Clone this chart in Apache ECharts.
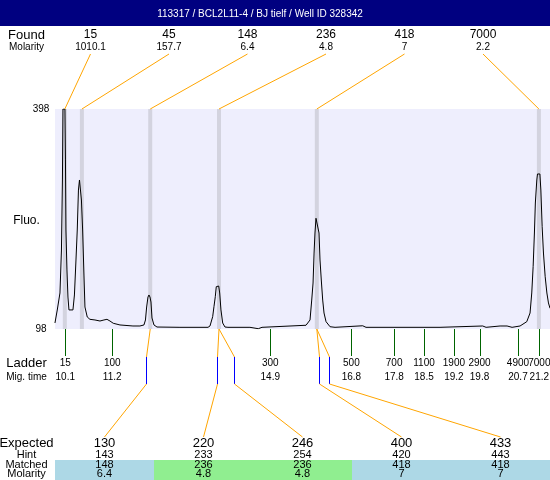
<!DOCTYPE html>
<html><head><meta charset="utf-8">
<script src="https://cdn.jsdelivr.net/npm/echarts@6/dist/echarts.min.js"></script>
<style>html,body{margin:0;padding:0;background:#fff}#c{width:550px;height:480px}</style>
</head><body><div id="c"></div>
<script>
// ---------- data ----------
const titleText = '113317 / BCL2L11-4 / BJ tielf / Well ID 328342';
const foundSizes = [15, 45, 148, 236, 418, 7000];
const foundMolarity = ['1010.1', '157.7', '6.4', '4.8', '7', '2.2'];
const foundTimes = [10.09, 10.49, 12.09, 13.70, 15.99, 21.19];
const ladderSizes = [15, 100, 300, 500, 700, 1100, 1900, 2900, 4900, 7000];
const ladderTimes = [10.1, 11.2, 14.9, 16.8, 17.8, 18.5, 19.2, 19.8, 20.7, 21.2];
const expectedSizes = [130, 220, 246, 400, 433];
const hintSizes = [143, 233, 254, 420, 443];
const hintTimes = [12.00, 13.66, 14.06, 16.04, 16.27];
const matchedSizes = [148, 236, 236, 418, 418];
const matchedMolarity = ['6.4', '4.8', '4.8', '7', '7'];
const yTicks = [98, 398];
const traceTimes = [9.859, 9.913, 9.976, 10.011, 10.034, 10.046, 10.093, 10.105, 10.116, 10.140, 10.163, 10.187, 10.233, 10.280, 10.315, 10.351, 10.381, 10.409, 10.433, 10.461, 10.479, 10.507, 10.538, 10.561, 10.615, 10.678, 10.796, 10.913, 11.006, 11.077, 11.147, 11.224, 11.381, 11.685, 11.849, 11.943, 11.978, 12.006, 12.037, 12.060, 12.084, 12.107, 12.131, 12.177, 12.248, 12.786, 13.442, 13.489, 13.552, 13.582, 13.613, 13.636, 13.653, 13.693, 13.716, 13.746, 13.786, 13.840, 13.910, 14.425, 14.620, 14.707, 15.737, 15.831, 15.871, 15.902, 15.926, 15.947, 15.971, 16.011, 16.042, 16.065, 16.095, 16.128, 16.159, 16.206, 16.300, 16.417, 17.065, 17.142, 17.938, 18.875, 19.875, 19.953, 20.281, 20.445, 20.562, 20.749, 20.906, 20.983, 21.023, 21.055, 21.085, 21.107, 21.141, 21.157, 21.213, 21.236, 21.266, 21.297, 21.337, 21.377, 21.414, 21.451];
const traceFluo = [106.2, 123.9, 147.1, 205.7, 301.2, 398, 398, 328.5, 233, 178.5, 141.6, 124, 122.5, 124, 144.4, 192.1, 233, 287.5, 301.2, 299.8, 273.9, 233, 171.6, 128, 114.4, 111.2, 110.3, 108.9, 110.3, 111.2, 108.9, 105.8, 103.5, 102.1, 102.1, 103.5, 110.3, 128, 141.6, 144.4, 141.6, 134.8, 113, 103.5, 100.7, 100.3, 100.3, 102.1, 114.8, 128.4, 142, 155.7, 156.6, 156.6, 147.1, 124, 106.2, 100.7, 100.3, 100.3, 98.4, 100.3, 103.1, 110.3, 137.5, 160.7, 201.6, 228.9, 249, 249.4, 228.9, 192.1, 164.8, 137.5, 119.8, 108, 101.1, 100.3, 102.4, 100.3, 100.3, 100.3, 102.1, 100.3, 102.1, 102.1, 100.3, 102.1, 108, 119.8, 147.1, 183, 228.9, 269.8, 301.2, 309.4, 309.4, 287.5, 237.5, 201.6, 169.3, 147.1, 133.5, 126.2];

// ---------- layout / style ----------
const FONT = '"Liberation Sans", Arial, sans-serif';
const f = s => s + 'px ' + FONT;
const X_MIN = 9.86, X_MAX = 21.45, Y_MIN = yTicks[0], Y_MAX = yTicks[1];
const ORANGE = '#FFA500', GREEN = '#006400', BLUE = '#0000FF';
const cellColors = ['#ADD8E6', '#90EE90', '#90EE90', '#ADD8E6', '#ADD8E6'];
const foundColX = i => 51.25 + 78.5 * (i + 0.5);
const expColX = i => 55 + 99 * (i + 0.5);
const LABEL_X = 26.5;
const px = x => Math.round(x) + 0.5;

const chart = echarts.init(document.getElementById('c'), null, {renderer: 'canvas'});

const graphics = [];
graphics.push({type: 'rect', shape: {x: 0, y: 0, width: 550, height: 26}, style: {fill: '#000080'}});
function txt(text, x, y, size, extra) {
  graphics.push({type: 'text', x: x, y: y, style: Object.assign({text: String(text), font: f(size), fill: '#000', align: 'center', verticalAlign: 'middle'}, extra || {})});
}
txt(titleText, 260, 14, 10, {fill: '#fff'});
txt('Found', LABEL_X, 35, 13);
txt('Molarity', LABEL_X, 47, 10);
txt('Fluo.', LABEL_X, 221, 12);
txt('Ladder', LABEL_X, 363, 13);
txt('Mig. time', LABEL_X, 377, 10);
txt('Expected', LABEL_X, 443, 13);
txt('Hint', LABEL_X, 455, 11);
txt('Matched', LABEL_X, 465, 11);
txt('Molarity', LABEL_X, 474, 11);
foundSizes.forEach((s, i) => {
  txt(s, foundColX(i), 35, 12);
  txt(foundMolarity[i], foundColX(i), 47, 10);
});
expectedSizes.forEach((s, i) => {
  graphics.push({type: 'rect', z: -1, shape: {x: 55 + 99 * i, y: 460, width: 99, height: 20}, style: {fill: cellColors[i]}});
  txt(s, expColX(i), 443, 13);
  txt(hintSizes[i], expColX(i), 455, 11);
  txt(matchedSizes[i], expColX(i), 465, 11);
  txt(matchedMolarity[i], expColX(i), 474, 11);
});

const option = {
  animation: false,
  grid: {left: 55, right: 0, top: 109, bottom: 151, show: true, backgroundColor: '#EEEEFD', borderWidth: 0},
  xAxis: {type: 'value', min: X_MIN, max: X_MAX, show: false},
  yAxis: {
    type: 'value', min: Y_MIN, max: Y_MAX, interval: Y_MAX - Y_MIN,
    axisLine: {show: false}, axisTick: {show: false}, splitLine: {show: false},
    axisLabel: {fontSize: 10, fontFamily: FONT, color: '#000', align: 'center', margin: 14, showMinLabel: true, showMaxLabel: true}
  },
  graphic: graphics,
  series: [
    { // grey bands at found peaks
      type: 'custom', z: 1, silent: true,
      data: foundTimes.map(t => [t, Y_MIN]),
      renderItem: (params, api) => {
        const t = api.value(0);
        const a = api.coord([t, Y_MAX]), b = api.coord([t, Y_MIN]);
        return {type: 'rect', shape: {x: a[0] - 2, y: a[1], width: 4, height: b[1] - a[1]}, style: {fill: '#D3D3DF'}};
      }
    },
    { // electropherogram
      type: 'line', z: 2, silent: true, showSymbol: false, clip: true,
      data: traceTimes.map((t, i) => [t, traceFluo[i]]),
      lineStyle: {color: '#000', width: 1}
    },
    { // found connectors
      type: 'custom', z: 3, silent: true, clip: false,
      data: foundTimes.map(t => [t, Y_MAX]),
      renderItem: (params, api) => {
        const p = api.coord([api.value(0), Y_MAX]);
        return {type: 'line', shape: {x1: foundColX(params.dataIndex), y1: 54, x2: p[0], y2: p[1]}, style: {stroke: ORANGE, lineWidth: 1}};
      }
    },
    { // ladder ticks and labels
      type: 'custom', z: 3, silent: true, clip: false,
      data: ladderTimes.map(t => [t, Y_MIN]),
      renderItem: (params, api) => {
        const i = params.dataIndex;
        const p = api.coord([api.value(0), Y_MIN]);
        const x = px(p[0]);
        return {type: 'group', children: [
          {type: 'line', shape: {x1: x, y1: p[1], x2: x, y2: 356}, style: {stroke: GREEN, lineWidth: 1}},
          {type: 'text', style: {text: String(ladderSizes[i]), x: p[0], y: 363, align: 'center', verticalAlign: 'middle', font: f(10), fill: '#000'}},
          {type: 'text', style: {text: ladderTimes[i].toFixed(1), x: p[0], y: 377, align: 'center', verticalAlign: 'middle', font: f(10), fill: '#000'}}
        ]};
      }
    },
    { // expected / hint / matched connectors
      type: 'custom', z: 3, silent: true, clip: false,
      data: hintTimes.map(t => [t, Y_MIN]),
      renderItem: (params, api) => {
        const i = params.dataIndex;
        const h = api.coord([api.value(0), Y_MIN]);
        const mt = foundTimes[foundSizes.indexOf(matchedSizes[i])];
        const m = api.coord([mt, Y_MIN]);
        const hx = px(h[0]);
        return {type: 'group', children: [
          {type: 'line', shape: {x1: m[0], y1: m[1], x2: hx, y2: 357}, style: {stroke: ORANGE, lineWidth: 1}},
          {type: 'line', shape: {x1: hx, y1: 357, x2: hx, y2: 384}, style: {stroke: BLUE, lineWidth: 1}},
          {type: 'line', shape: {x1: hx, y1: 384, x2: expColX(i), y2: 437}, style: {stroke: ORANGE, lineWidth: 1}}
        ]};
      }
    }
  ]
};
chart.setOption(option);
</script></body></html>
